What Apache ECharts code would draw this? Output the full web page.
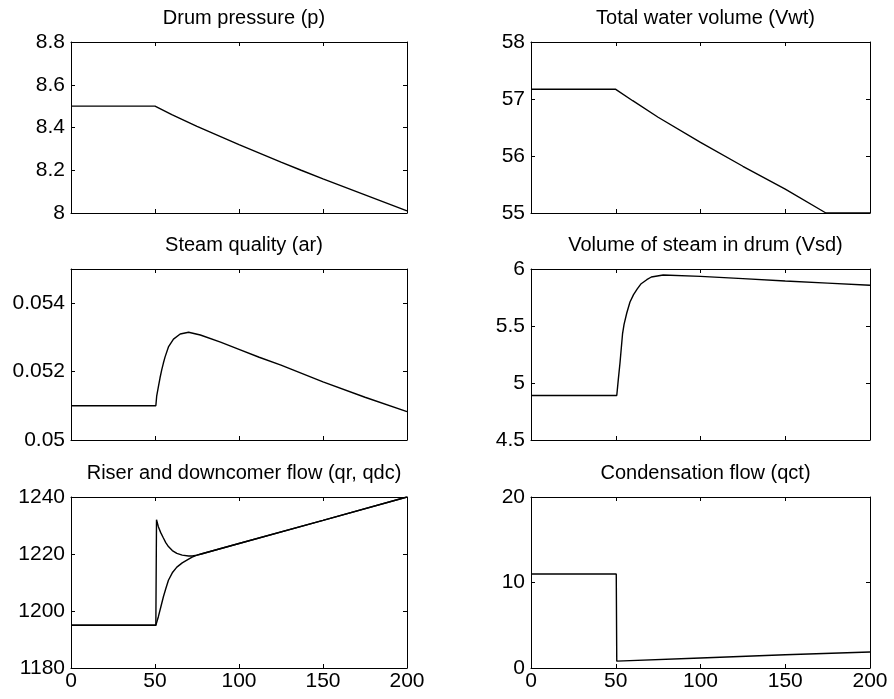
<!DOCTYPE html>
<html>
<head>
<meta charset="utf-8">
<script src="https://cdn.jsdelivr.net/npm/echarts@6/dist/echarts.min.js"></script>
<style>
html,body{margin:0;padding:0;background:#fff;}
#chart{width:894px;height:699px;}
</style>
</head>
<body>
<div id="chart"></div>
<script>
// ---- Data (time in seconds) ----
const titles = [
  'Drum pressure (p)', 'Total water volume (Vwt)',
  'Steam quality (ar)', 'Volume of steam in drum (Vsd)',
  'Riser and downcomer flow (qr, qdc)', 'Condensation flow (qct)'
];
const xTicks = [0, 50, 100, 150, 200];

const pT = [0, 50, 60, 75, 100, 125, 137, 150, 175, 200];
const pV = [8.5, 8.5, 8.46, 8.405, 8.32, 8.238, 8.2, 8.16, 8.085, 8.01];

const vwtT = [0, 50, 60, 75, 100, 125, 150, 174, 200];
const vwtV = [57.17, 57.17, 56.97, 56.68, 56.24, 55.82, 55.42, 55.0, 55.0];

const arT = [0, 50.5, 51, 52, 53, 54, 55, 56, 58, 61, 65, 70, 77, 89, 100, 112, 125, 150, 175, 200];
const arV = [0.0510, 0.0510, 0.05128, 0.05155, 0.05182, 0.05205, 0.05225, 0.05243, 0.05272, 0.05295, 0.0531, 0.05315, 0.05307, 0.05286, 0.05265, 0.05242, 0.05219, 0.0517, 0.05125, 0.05083];

const vsdT = [0, 50.6, 51.5, 52.5, 54, 54.9, 56.5, 58.4, 60.5, 62.7, 65, 68.3, 71, 78, 100, 125, 150, 175, 200];
const vsdV = [4.89, 4.89, 5.03, 5.175, 5.43, 5.515, 5.614, 5.71, 5.775, 5.825, 5.871, 5.906, 5.93, 5.947, 5.935, 5.916, 5.895, 5.876, 5.857];

const qrT = [0, 50.5, 50.9, 52, 53.4, 55, 56.4, 58, 60.3, 63, 66.2, 70, 72.1, 75, 78, 100, 150, 200];
const qrV = [1195, 1195, 1232, 1229.6, 1227.5, 1225.6, 1224.0, 1222.6, 1221.2, 1220.2, 1219.6, 1219.3, 1219.3, 1219.6, 1220.1, 1223.7, 1231.8, 1240];

const qdcT = [0, 50.5, 52, 53.5, 55, 56.5, 58, 60.3, 63, 66.2, 70, 72.1, 75, 78, 100, 150, 200];
const qdcV = [1195, 1195, 1198, 1201.5, 1205, 1208, 1210.8, 1213.4, 1215.4, 1216.9, 1218.2, 1218.9, 1219.6, 1220.1, 1223.7, 1231.8, 1240];

const qctT = [0, 50.3, 50.6, 100, 150, 200];
const qctV = [11, 11, 0.8, 1.17, 1.55, 1.87];

// y-axis settings per panel
const yMin = [8, 55, 0.05, 4.5, 1180, 0];
const yMax = [8.8, 58, 0.055, 6, 1240, 20];
const yStep = [0.2, 1, 0.002, 0.5, 20, 10];

// ---- Layout ----
const FONT = '"Liberation Sans", Arial, Helvetica, sans-serif';
const colLeft = [71, 531];
const colWidth = [336, 339];
const rowTop = [42, 269, 497];
const plotH = 171;
const fmt = v => String(+(+v).toFixed(6));

const grids = [], xAxes = [], yAxes = [], titleArr = [];
for (let i = 0; i < 6; i++) {
  const c = i % 2, r = Math.floor(i / 2);
  grids.push({left: colLeft[c], top: rowTop[r], width: colWidth[c], height: plotH, show: false});
  titleArr.push({
    text: titles[i], left: colLeft[c] + colWidth[c] / 2, top: rowTop[r] - 39,
    textAlign: 'center',
    textStyle: {fontFamily: FONT, fontSize: 20, fontWeight: 'normal', color: '#000'}
  });
  const lineStyle = {color: '#000', width: 1};
  xAxes.push({
    type: 'value', gridIndex: i, position: 'bottom', min: 0, max: 200, interval: 50,
    axisLine: {show: true, onZero: false, lineStyle},
    axisTick: {show: true, inside: true, length: 4, lineStyle},
    axisLabel: {show: r === 2, margin: 3, color: '#000', fontFamily: FONT, fontSize: 21, formatter: fmt},
    splitLine: {show: false}
  });
  xAxes.push({
    type: 'value', gridIndex: i, position: 'top', min: 0, max: 200, interval: 50,
    axisLine: {show: true, onZero: false, lineStyle},
    axisTick: {show: true, inside: true, length: 4, lineStyle},
    axisLabel: {show: false}, splitLine: {show: false}
  });
  yAxes.push({
    type: 'value', gridIndex: i, position: 'left', min: yMin[i], max: yMax[i], interval: yStep[i],
    axisLine: {show: true, onZero: false, lineStyle},
    axisTick: {show: true, inside: true, length: 4, lineStyle},
    axisLabel: {show: true, margin: 6, color: '#000', fontFamily: FONT, fontSize: 21, showMaxLabel: i !== 2, formatter: fmt},
    splitLine: {show: false}
  });
  yAxes.push({
    type: 'value', gridIndex: i, position: 'right', min: yMin[i], max: yMax[i], interval: yStep[i],
    axisLine: {show: true, onZero: false, lineStyle},
    axisTick: {show: true, inside: true, length: 4, lineStyle},
    axisLabel: {show: false}, splitLine: {show: false}
  });
}

function zip(t, v) { return t.map((x, k) => [x, v[k]]); }
function mk(i, t, v, name) {
  return {
    name, type: 'line', xAxisIndex: 2 * i, yAxisIndex: 2 * i,
    data: zip(t, v), showSymbol: false, symbol: 'none', smooth: false,
    lineStyle: {color: '#000', width: 1.4}, animation: false, clip: true
  };
}

const series = [
  mk(0, pT, pV, 'p'),
  mk(1, vwtT, vwtV, 'Vwt'),
  mk(2, arT, arV, 'ar'),
  mk(3, vsdT, vsdV, 'Vsd'),
  mk(4, qrT, qrV, 'qr'),
  mk(4, qdcT, qdcV, 'qdc'),
  mk(5, qctT, qctV, 'qct')
];

const chart = echarts.init(document.getElementById('chart'), null, {renderer: 'canvas'});
chart.setOption({
  backgroundColor: '#fff',
  animation: false,
  title: titleArr,
  grid: grids,
  xAxis: xAxes,
  yAxis: yAxes,
  series
});
</script>
</body>
</html>
